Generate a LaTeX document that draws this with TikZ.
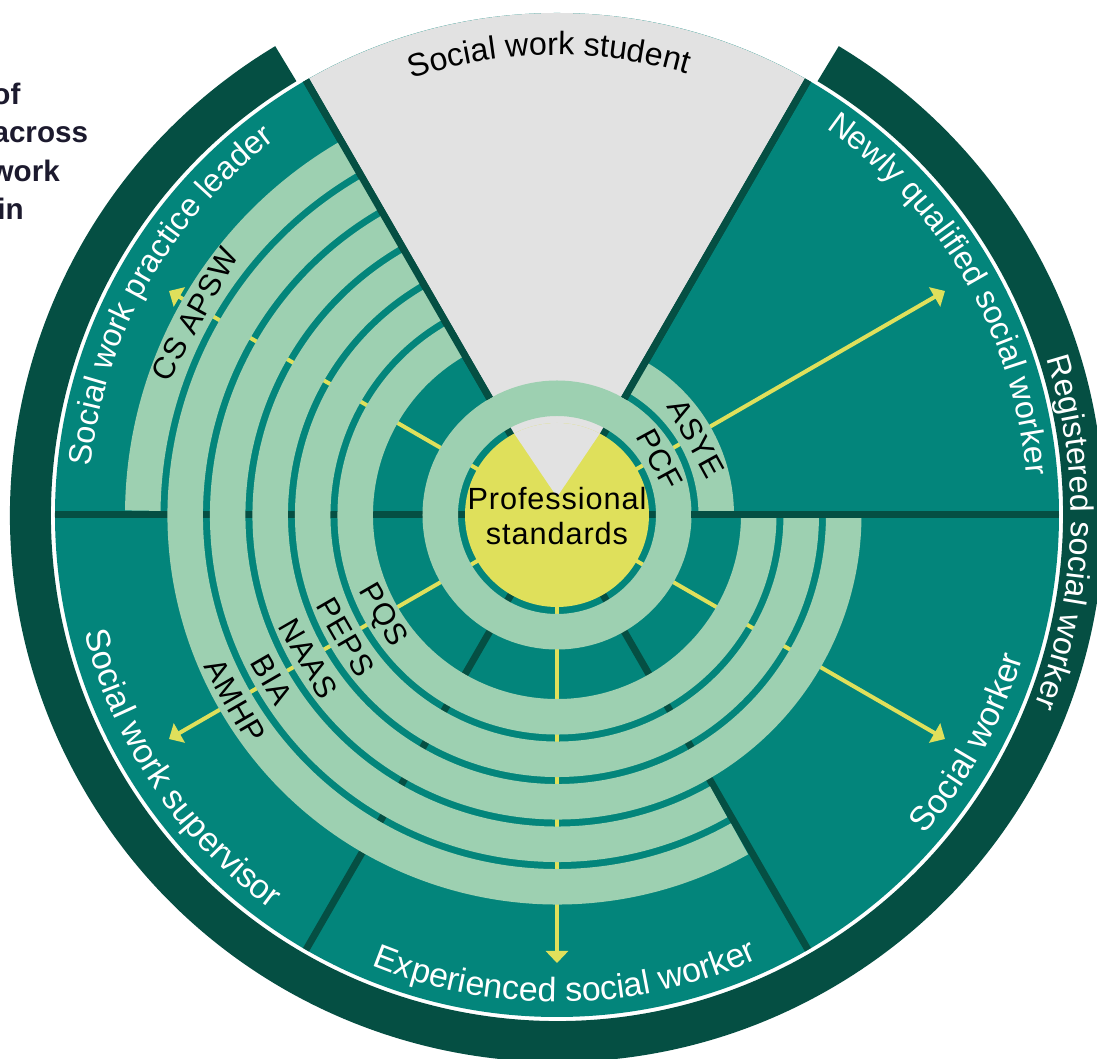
\documentclass[tikz,border=0pt]{standalone}
\usepackage{fontspec}
\setmainfont{Liberation Sans}[LetterSpace=3]
\newfontfamily\arcfam{Liberation Sans}
\newfontfamily\fragfam{Liberation Sans}
\usetikzlibrary{decorations.text, arrows.meta}
\definecolor{ringdark}{HTML}{054F43}
\definecolor{teal1}{HTML}{03857B}
\definecolor{pale}{HTML}{9DD0B1}
\definecolor{yel}{HTML}{DFE05B}
\definecolor{greyw}{HTML}{E2E2E2}
\definecolor{navy}{HTML}{1C1A2E}
\newcommand\labfont{\fontsize{23}{27}\selectfont}
\newcommand\wout{\arcfam\fontsize{24.2}{28}\selectfont\color{white}}
\newcommand\win{\arcfam\fontsize{25.5}{30}\selectfont\color{white}}
\newcommand\bout{\arcfam\fontsize{24.2}{28}\selectfont\color{black}}
\begin{document}
\begin{tikzpicture}[x=0.75pt,y=0.75pt,
  band/.style={draw=pale, line width=26.625pt},
  divider/.style={draw=ringdark, line width=5.25pt},
  yarrow/.style={draw=yel, line width=3pt, -{Triangle[length=9pt,width=16.5pt]}},
  lbl/.style={font=\labfont, inner sep=0pt},
  frag/.style={font=\fragfam\bfseries\fontsize{22.2}{26}\selectfont, text=navy, anchor=base east, inner sep=0pt},
  arctext/.style={decorate, decoration={text along path, text align=center, text={#1}}}
]
\useasboundingbox (-557,-544) rectangle (540,515);
\clip (-557,-544) rectangle (540,515);
\fill[white] (-557,-544) rectangle (540,515);
% outer dark ring
\draw[ringdark, line width=30.75pt] (121:526.5) arc[start angle=121, end angle=419, radius=526.5];
% sectors
\fill[teal1] (0,0) circle[radius=502];
\fill[greyw] (0,0) -- (60:502) arc[start angle=60, end angle=120, radius=502] -- cycle;
% dividers (under bands)
\foreach \a in {0,60,120,180,240,300} \draw[divider] (0,0) -- (\a:502);
% arrows
\coordinate (c) at (0,0);
\foreach \a in {30,150,210,270,330} {
  \coordinate (tip\a) at (\a:448);
  \draw[yarrow] (c) -- (tip\a);
}
% yellow disc and grey notch
\fill[yel] (0,0) circle[radius=92];
\begin{scope}
  \clip (0,0) circle[radius=92];
  \fill[greyw] (0,18) -- +(56:200) -- +(124:200) -- cycle;
\end{scope}
% bands
\draw[band] (0,0) circle[radius=116.75];
\draw[band] (0:159.25) arc[start angle=0, end angle=60, radius=159.25];
\draw[band] (120:201.75) arc[start angle=120, end angle=360, radius=201.75];
\draw[band] (120:244.25) arc[start angle=120, end angle=360, radius=244.25];
\draw[band] (120:286.75) arc[start angle=120, end angle=360, radius=286.75];
\draw[band] (120:329.25) arc[start angle=120, end angle=299.4, radius=329.25];
\draw[band] (120:371.75) arc[start angle=120, end angle=299.4, radius=371.75];
\draw[band] (120:414.25) arc[start angle=120, end angle=179.4, radius=414.25];
% dividers on top
\foreach \a in {0,60,120} \draw[divider] (\a:134.5) -- (\a:502);
% band labels
\node[lbl, rotate=-61.5] (pcf) at (28.5:116.75) {PCF};
\node[lbl, rotate=-61.2] (asye) at (28.8:159.25) {ASYE};
\node[lbl, rotate=300] (pqs) at (210:201.75) {PQS};
\node[lbl, rotate=300] (peps) at (210:244.25) {PEPS};
\node[lbl, rotate=300] (naas) at (210:286.75) {NAAS};
\node[lbl, rotate=300] (bia) at (210:329.25) {BIA};
\node[lbl, rotate=300] (amhp) at (210:371.75) {AMHP};
\node[lbl, rotate=61] (csapsw) at (151:414.25) {CS APSW};
% centre
\node[lbl, anchor=base] (ps1) at (0,5) {Professional};
\node[lbl, anchor=base] (ps2) at (0,-30) {standards};
% arc labels
\path[arctext={|\bout|Social work student}] (136:460) arc[start angle=136, end angle=46, radius=460];
\path[arctext={|\wout|Newly qualified social worker}] (75:471) arc[start angle=75, end angle=-15, radius=471];
\path[arctext={|\wout|Social work practice leader}] (195.5:469) arc[start angle=195.5, end angle=105.5, radius=469];
\path[arctext={|\win|Social worker}] (-74:487) arc[start angle=-74, end angle=16, radius=487];
\path[arctext={|\win|Experienced social worker}] (-134:487) arc[start angle=-134, end angle=-44, radius=487];
\path[arctext={|\win|Social work supervisor}] (169:487) arc[start angle=169, end angle=259, radius=487];
\path[arctext={|\wout|Registered social worker}] (43:514) arc[start angle=43, end angle=-47, radius=514];
% cut-off heading fragments
\node[frag] (f1) at (-536.3,410) {of};
\node[frag] (f2) at (-468.7,372) {across};
\node[frag] (f3) at (-497,333.3) {work};
\node[frag] (f4) at (-533,295.7) {in};
\end{tikzpicture}
\end{document}
